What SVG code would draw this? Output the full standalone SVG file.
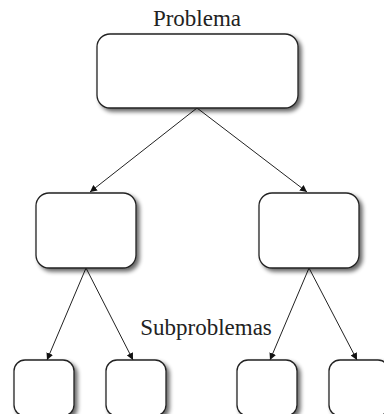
<svg xmlns="http://www.w3.org/2000/svg" width="384" height="414" viewBox="0 0 384 414">
<defs>
<filter id="sh" x="-20%" y="-20%" width="150%" height="150%">
<feGaussianBlur in="SourceAlpha" stdDeviation="2"/>
<feOffset dx="3" dy="3" result="b"/>
<feComponentTransfer><feFuncA type="linear" slope="0.6"/></feComponentTransfer>
<feMerge><feMergeNode/><feMergeNode in="SourceGraphic"/></feMerge>
</filter>
<marker id="ah" viewBox="0 0 10 10" refX="10" refY="5" markerWidth="7" markerHeight="7" markerUnits="userSpaceOnUse" orient="auto">
<path d="M0,0 L10,5 L0,10 z" fill="#111"/>
</marker>
<style>
.n{fill:#fff;stroke:#222;stroke-width:1.3;filter:url(#sh)}
.c{stroke:#222;stroke-width:1;fill:none;marker-end:url(#ah)}
.t{font-family:"Liberation Serif",serif;font-size:23px;fill:#222;text-anchor:middle}
</style>
</defs>
<rect width="384" height="414" fill="#fff"/>
<g id="connectors">
<line class="c" x1="197" y1="108" x2="90" y2="192"/>
<line class="c" x1="197" y1="108" x2="307" y2="192"/>
<line class="c" x1="86" y1="268" x2="47" y2="360"/>
<line class="c" x1="86" y1="268" x2="133" y2="360"/>
<line class="c" x1="309" y1="268" x2="270" y2="360"/>
<line class="c" x1="309" y1="268" x2="357" y2="360"/>
</g>
<g id="root"><rect class="n" x="97" y="34" width="201" height="74" rx="13"/></g>
<g id="mid-left"><rect class="n" x="36" y="193" width="100" height="75" rx="13"/></g>
<g id="mid-right"><rect class="n" x="259" y="193" width="100" height="75" rx="13"/></g>
<g id="leaf1"><rect class="n" x="14" y="360" width="60" height="56" rx="11"/></g>
<g id="leaf2"><rect class="n" x="106" y="360" width="60" height="56" rx="11"/></g>
<g id="leaf3"><rect class="n" x="237" y="360" width="60" height="56" rx="11"/></g>
<g id="leaf4"><rect class="n" x="329" y="360" width="60" height="56" rx="11"/></g>
<g id="labels">
<text class="t" x="197" y="26">Problema</text>
<text class="t" x="206" y="335">Subproblemas</text>
</g>
</svg>
